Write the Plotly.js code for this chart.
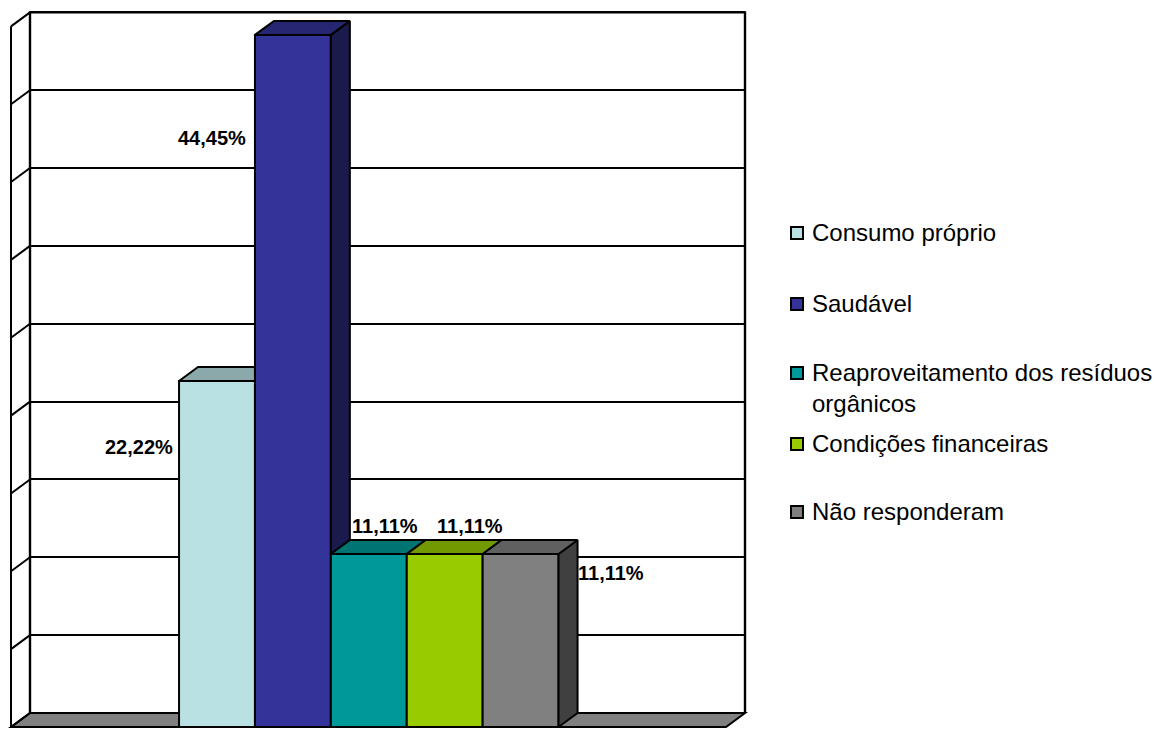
<!DOCTYPE html>
<html>
<head>
<meta charset="utf-8">
<script src="https://cdn.plot.ly/plotly-3.0.1.min.js"></script>
<style>html,body{margin:0;padding:0;background:#fff}</style>
</head>
<body>
<div id="chart" style="width:1154px;height:729px"></div>
<script>
const categories = ["Consumo próprio", "Saudável", "Reaproveitamento dos resíduos<br>orgânicos", "Condições financeiras", "Não responderam"];
const values = [22.22, 44.45, 11.11, 11.11, 11.11];
const labels = ["22,22%", "44,45%", "11,11%", "11,11%", "11,11%"];
const frontColors = ["#B9E0E3", "#333399", "#009999", "#99CC00", "#808080"];
const topColors = ["#8BA8AA", "#262673", "#007373", "#739900", "#606060"];
const sideColors = ["#5D7072", "#1A1A4D", "#004D4D", "#4D6600", "#404040"];
const axisTicks = [0, 5, 10, 15, 20, 25, 30, 35, 40, 45];

// Drawing geometry (page pixels -> axis units)
const W = 1154, H = 729;
const plotL = 8, plotR = 750, plotT = 8, plotB = 729;
const xPx = 75.9, yPx = 15.57, firstBarPx = 217, basePx = 727;
const depthX = 19 / xPx, depthY = 14 / yPx;
const X = px => (px - firstBarPx) / xPx;
const Y = py => (basePx - py) / yPx;
const floorL = X(11), floorR = X(726), axisMax = 45;
const half = 0.5;
const LW = 2;

const traces = [];
const BLACK = "#000";

// keeps the back-wall subplot (its axes draw the gridlines) alive
traces.push({type:"scatter", mode:"lines", x:[0, 1], y:[0, 0], xaxis:"x", yaxis:"y",
  line:{color:BLACK, width:LW}, showlegend:false, hoverinfo:"skip"});

// wall frame and left-wall tick diagonals
const frameX = [floorL + depthX, floorL + depthX, floorR + depthX, floorR + depthX];
const frameY = [depthY, axisMax + depthY, axisMax + depthY, depthY];
traces.push({type:"scatter", mode:"lines", x:frameX, y:frameY, xaxis:"x2", yaxis:"y2",
  line:{color:BLACK, width:2.4}, showlegend:false, hoverinfo:"skip"});
const diagX = [floorL, floorL, null], diagY = [0, axisMax, null];
axisTicks.forEach(t => { diagX.push(floorL, floorL + depthX, null); diagY.push(t, t + depthY, null); });
traces.push({type:"scatter", mode:"lines", x:diagX, y:diagY, xaxis:"x2", yaxis:"y2",
  line:{color:BLACK, width:LW}, showlegend:false, hoverinfo:"skip"});

// front faces: real bars, one series per category
categories.forEach((c, i) => {
  traces.push({type:"bar", name:c, x:[i], y:[values[i]], width:1, xaxis:"x2", yaxis:"y2",
    legendgroup:"g"+i, marker:{color:frontColors[i], line:{color:BLACK, width:LW}}, hoverinfo:"name+y"});
});

// side and top faces, computed from the values
values.forEach((v, i) => {
  const next = i < values.length - 1 ? values[i+1] : 0;
  const x1 = i + half;
  if (v > next) {
    traces.push({type:"scatter", mode:"lines", fill:"toself", fillcolor:sideColors[i],
      x:[x1, x1 + depthX, x1 + depthX, x1, x1], y:[v, v + depthY, next + depthY, next, v],
      xaxis:"x2", yaxis:"y2", line:{color:BLACK, width:LW}, showlegend:false, hoverinfo:"skip"});
  }
});
values.forEach((v, i) => {
  const next = i < values.length - 1 ? values[i+1] : 0;
  const x0 = i - half, x1 = i + half;
  const backR = next > v ? x1 : x1 + depthX;
  traces.push({type:"scatter", mode:"lines", fill:"toself", fillcolor:topColors[i],
    x:[x0, x1, backR, x0 + depthX, x0], y:[v, v, v + depthY, v + depthY, v],
    xaxis:"x2", yaxis:"y2", line:{color:BLACK, width:LW}, showlegend:false, hoverinfo:"skip"});
});

// front floor edge
traces.push({type:"scatter", mode:"lines", x:[floorL, floorR], y:[0, 0], xaxis:"x2", yaxis:"y2",
  line:{color:BLACK, width:LW}, showlegend:false, hoverinfo:"skip"});

const labelPx = [[139, 447], [212, 138], [385, 526], [470, 526], [611, 573]];
const annotations = labels.map((t, i) => ({
  xref:"x2", yref:"y2", x:X(labelPx[i][0]), y:Y(labelPx[i][1]), text:"<b>"+t+"</b>", showarrow:false,
  font:{family:"Liberation Sans", size:20, color:BLACK}, xanchor:"center", yanchor:"middle"
}));

const floorPath = "M"+floorL+",0L"+floorR+",0L"+(floorR+depthX)+","+depthY+"L"+(floorL+depthX)+","+depthY+"Z";

const plotW = plotR - plotL;
const layout = {
  width:W, height:H,
  margin:{l:plotL, r:W - plotR, t:plotT, b:H - plotB, pad:0},
  paper_bgcolor:"#fff", plot_bgcolor:"rgba(0,0,0,0)",
  barmode:"overlay", hovermode:"closest",
  // back-wall gridlines: same scale, shifted by the wall's depth
  xaxis:{domain:[(30 - plotL)/plotW, (745 - plotL)/plotW], range:[0,1], visible:false, anchor:"y", showgrid:false, fixedrange:true},
  yaxis:{domain:[0,1], range:[Y(plotB) - depthY, Y(plotT) - depthY], anchor:"x", tickmode:"array", tickvals:axisTicks,
    showgrid:true, gridcolor:BLACK, gridwidth:LW, showticklabels:false, ticks:"", showline:false, zeroline:false, fixedrange:true},
  xaxis2:{domain:[0,1], range:[X(plotL), X(plotR)], visible:false, anchor:"y2", fixedrange:true},
  yaxis2:{domain:[0,1], range:[Y(plotB), Y(plotT)], visible:false, anchor:"x2", fixedrange:true},
  shapes:[{type:"path", xref:"x2", yref:"y2", layer:"below", path:floorPath, fillcolor:"#808080", line:{color:BLACK, width:LW}}],
  annotations:annotations,
  legend:{x:(772 - plotL)/plotW, xanchor:"left", y:1 - (210 - plotT)/(plotB - plotT), yanchor:"top",
    font:{family:"Liberation Sans", size:24, color:BLACK}, tracegroupgap:37, bgcolor:"rgba(0,0,0,0)",
    indentation:-4, traceorder:"grouped", itemclick:false, itemdoubleclick:false, borderwidth:0},
  showlegend:true
};

// first-line centre of each legend entry in the reference layout
const legendRowY = [233, 304, 373, 444, 512];
Plotly.newPlot("chart", traces, layout, {displayModeBar:false}).then(() => {
  const legend = document.querySelector("#chart .legend");
  legend.setAttribute("transform", legend.getAttribute("transform") + " translate(4,0)");
  legend.querySelectorAll(".traces").forEach((row, i) => {
    const text = row.querySelector(".legendtext");
    const textTop = text.getBoundingClientRect().top;
    const dy = legendRowY[i] - (textTop + 14);
    row.setAttribute("transform", row.getAttribute("transform") + " translate(0," + dy + ")");
    const pts = row.querySelector(".legendpoints");
    const b = pts.getBoundingClientRect();
    const sdy = legendRowY[i] - (b.top + b.height / 2);
    pts.setAttribute("transform", "translate(5," + sdy + ")");
  });
});
</script>
</body>
</html>
